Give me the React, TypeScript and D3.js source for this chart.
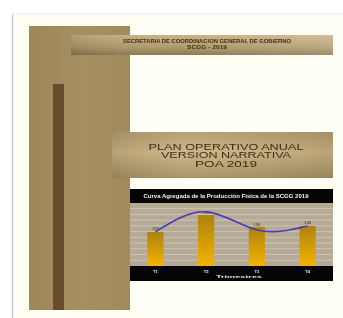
import * as d3 from 'd3'

const W = 343
const H = 318

// chart data
const quarters = ['T1', 'T2', 'T3', 'T4']
const barValues = [119, 178, 136, 140]
const barLabels = ['119', '178', '136', '140']
const curveValues = [119, 189, 126, 140]
const gridTicks = d3.range(0, 221, 20)

const headerLines = ['SECRETARIA DE COORDINACION GENERAL DE GOBIERNO', 'SCGG - 2019']
const titleLines = ['PLAN OPERATIVO ANUAL', 'VERSION NARRATIVA', 'POA 2019']
const chartTitle = 'Curva Agregada de la Producción Física de la SCGG 2019'
const axisTitle = 'Trimestres'

export default function App() {
  const x = d3.scaleBand().domain(quarters).range([130, 333]).paddingInner(0.68).paddingOuter(0.34)
  const y = d3.scaleLinear().domain([0, 220]).range([266, 203])
  const cx = (q: string) => (x(q) ?? 0) + x.bandwidth() / 2

  const line = d3.line<number>()
    .x((_, i) => cx(quarters[i]))
    .y(d => y(d))
    .curve(d3.curveNatural)

  const font = '"Liberation Sans", Arial, sans-serif'

  return (
    <div style={{ position: 'fixed', left: 0, top: 0 }}>
      <svg width={W} height={H} style={{ display: 'block', filter: 'blur(0.5px)' }}>
        <defs>
          <linearGradient id="block" x1="0" x2="1" y1="0" y2="0">
            <stop offset="0" stopColor="#9c865a" />
            <stop offset="0.5" stopColor="#a58f62" />
            <stop offset="1" stopColor="#a18b5d" />
          </linearGradient>
          <linearGradient id="topBand" x1="0" x2="0" y1="0" y2="1">
            <stop offset="0" stopColor="#c9b287" />
            <stop offset="0.6" stopColor="#b09a6c" />
            <stop offset="1" stopColor="#8d7850" />
          </linearGradient>
          <linearGradient id="topBandH" x1="0" x2="1" y1="0" y2="0">
            <stop offset="0" stopColor="#000" stopOpacity="0.12" />
            <stop offset="0.4" stopColor="#fff" stopOpacity="0" />
            <stop offset="1" stopColor="#fff" stopOpacity="0.15" />
          </linearGradient>
          <linearGradient id="titleBand" x1="0" x2="0" y1="0" y2="1">
            <stop offset="0" stopColor="#b49c6c" />
            <stop offset="0.45" stopColor="#cbb382" />
            <stop offset="1" stopColor="#a58f62" />
          </linearGradient>
          <linearGradient id="titleBandH" x1="0" x2="1" y1="0" y2="0">
            <stop offset="0" stopColor="#000" stopOpacity="0.1" />
            <stop offset="0.35" stopColor="#fff" stopOpacity="0.05" />
            <stop offset="1" stopColor="#000" stopOpacity="0.08" />
          </linearGradient>
          <linearGradient id="bar" x1="0" x2="0" y1="0" y2="1">
            <stop offset="0" stopColor="#ad820f" />
            <stop offset="1" stopColor="#f5b200" />
          </linearGradient>
        </defs>

        <rect width={W} height={H} fill="#ffffff" />
        <rect x={13} y={14} width={W - 13} height={H - 14} fill="#fffef4" />
        <line x1={12.5} x2={12.5} y1={14} y2={H} stroke="#c9c9c9" strokeWidth={1.5} />
        <line x1={13} x2={W} y1={14} y2={14} stroke="#eeeeea" strokeWidth={1} />

        {/* left tan block with dark stripe */}
        <rect x={29} y={26} width={101} height={284} fill="url(#block)" />
        <rect x={53} y={84} width={11} height={226} fill="#6a4b2c" />

        {/* header band */}
        <rect x={71} y={35} width={262} height={20} fill="url(#topBand)" />
        <rect x={71} y={35} width={262} height={20} fill="url(#topBandH)" />
        {headerLines.map((t, i) => (
          <text key={t} x={207} y={42.5 + i * 6} textAnchor="middle" fontFamily={font}
            fontSize={4.6} fontWeight="bold" fill="#3d2f18"
            textLength={i === 0 ? 168 : 40} lengthAdjust="spacingAndGlyphs">{t}</text>
        ))}

        {/* title band */}
        <rect x={112} y={132} width={221} height={46} fill="url(#titleBand)" />
        <rect x={112} y={132} width={221} height={46} fill="url(#titleBandH)" />
        {titleLines.map((t, i) => (
          <text key={t} x={226} y={149.5 + i * 8.7} textAnchor="middle" fontFamily={font}
            fontSize={8.6} fill="#3a2c17"
            textLength={[155, 130, 62][i]} lengthAdjust="spacingAndGlyphs">{t}</text>
        ))}

        {/* chart */}
        <rect x={130} y={189} width={203} height={14} fill="#050505" />
        <text x={226} y={197.5} textAnchor="middle" fontFamily={font} fontSize={4.8}
          fontWeight="bold" fill="#f2f2f2" textLength={165} lengthAdjust="spacingAndGlyphs">{chartTitle}</text>
        <rect x={130} y={203} width={203} height={63} fill="#b5aa97" />
        {gridTicks.slice(1, -1).map(t => (
          <line key={t} x1={130} x2={333} y1={y(t)} y2={y(t)} stroke="#d6cdbb" strokeWidth={0.8} />
        ))}
        {quarters.map((q, i) => (
          <g key={q}>
            <rect x={x(q)} y={y(barValues[i])} width={x.bandwidth()} height={y(0) - y(barValues[i])} fill="url(#bar)" />
            <text x={cx(q)} y={y(barValues[i]) - 1.5} textAnchor="middle" fontFamily={font}
              fontSize={4.4} fill="#3b3324">{barLabels[i]}</text>
          </g>
        ))}
        <path d={line(curveValues) ?? ''} fill="none" stroke="#4a3cb0" strokeWidth={1.6} />
        <rect x={130} y={266} width={203} height={15} fill="#050505" />
        {quarters.map(q => (
          <text key={q} x={cx(q)} y={272.5} textAnchor="middle" fontFamily={font} fontSize={4.2}
            fontWeight="bold" fill="#e8e8e8">{q}</text>
        ))}
        <text x={239} y={278.3} textAnchor="middle" fontFamily={font} fontSize={4.2}
          fontWeight="bold" fill="#e8e8e8" textLength={46} lengthAdjust="spacingAndGlyphs">{axisTitle}</text>
      </svg>
    </div>
  )
}
